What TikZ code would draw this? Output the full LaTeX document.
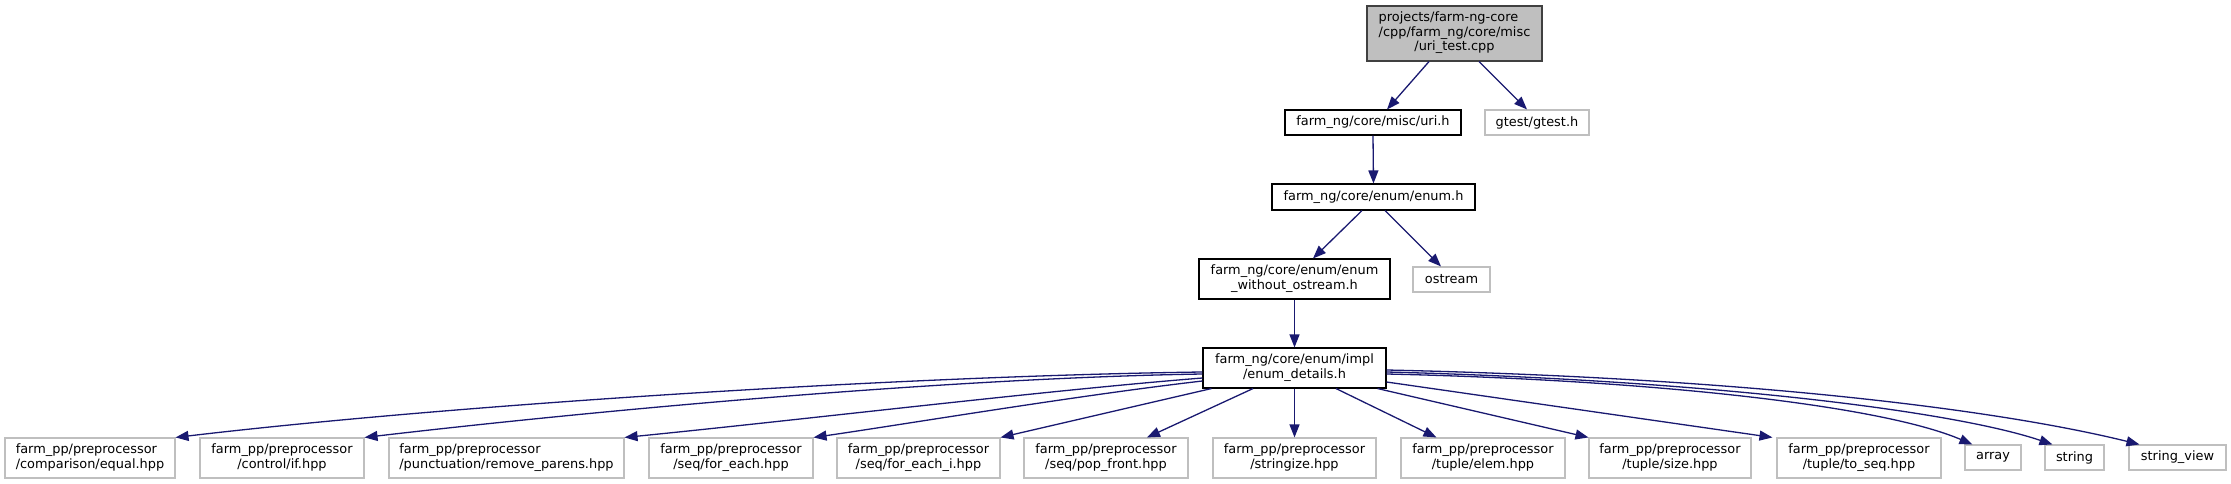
\documentclass[tikz,border=0pt]{standalone}
\usepackage{fontspec}
\setmainfont{DejaVu Sans}
\usetikzlibrary{arrows.meta,calc}
\definecolor{edgeblue}{HTML}{191970}
\definecolor{extgray}{HTML}{BFBFBF}
\definecolor{rootfill}{HTML}{BFBFBF}
\definecolor{rootdraw}{HTML}{404040}
\newcommand{\lbltwo}[2]{\begin{tabular}{@{}l@{}}#1\\\multicolumn{1}{@{}c@{}}{#2}\end{tabular}}
\newcommand{\lblthree}[3]{\begin{tabular}{@{}l@{}}#1\\#2\\\multicolumn{1}{@{}c@{}}{#3}\end{tabular}}
\tikzset{
  box/.style={rectangle, inner sep=0pt, line width=1.1pt, fill=white, anchor=center,
    font=\fontsize{12.9}{14.5}\selectfont},
  intbox/.style={box, draw=black},
  extbox/.style={box, draw=extgray},
  rootbox/.style={box, draw=rootdraw, fill=rootfill},
  edge/.style={draw=edgeblue, line width=1.3pt, -{Triangle[length=13pt,width=10pt]}}
}
\begin{document}
\begin{tikzpicture}[x=1pt,y=-1pt]
\useasboundingbox (0,0) rectangle (2231,484);
% nodes
\node[rootbox, minimum width=175pt, minimum height=55pt] (root) at (1454.5,33.5)
  {\lblthree{projects/farm-ng-core}{/cpp/farm\_ng/core/misc}{/uri\_test.cpp}};
\node[intbox, minimum width=176pt, minimum height=25pt] (uri) at (1373,122.5) {farm\_ng/core/misc/uri.h};
\node[extbox, minimum width=104pt, minimum height=25pt] (gtest) at (1537,122.5) {gtest/gtest.h};
\node[intbox, minimum width=203pt, minimum height=26pt] (enumh) at (1373.5,197) {farm\_ng/core/enum/enum.h};
\node[intbox, minimum width=191pt, minimum height=40pt] (wo) at (1294.5,279)
  {\lbltwo{farm\_ng/core/enum/enum}{\_without\_ostream.h}};
\node[extbox, minimum width=77pt, minimum height=25pt] (os) at (1451.5,279.5) {ostream};
\node[intbox, minimum width=183pt, minimum height=40pt] (ed) at (1294.5,368)
  {\lbltwo{farm\_ng/core/enum/impl}{/enum\_details.h}};
\node[extbox, minimum width=170pt, minimum height=40pt] (eq) at (90,458)
  {\lbltwo{farm\_pp/preprocessor}{/comparison/equal.hpp}};
\node[extbox, minimum width=164pt, minimum height=40pt] (ifh) at (282,458)
  {\lbltwo{farm\_pp/preprocessor}{/control/if.hpp}};
\node[extbox, minimum width=235pt, minimum height=40pt] (rp) at (506.5,458)
  {\lbltwo{farm\_pp/preprocessor}{/punctuation/remove\_parens.hpp}};
\node[extbox, minimum width=164pt, minimum height=40pt] (fe) at (731,458)
  {\lbltwo{farm\_pp/preprocessor}{/seq/for\_each.hpp}};
\node[extbox, minimum width=163pt, minimum height=40pt] (fei) at (918.5,458)
  {\lbltwo{farm\_pp/preprocessor}{/seq/for\_each\_i.hpp}};
\node[extbox, minimum width=164pt, minimum height=40pt] (pf) at (1106,458)
  {\lbltwo{farm\_pp/preprocessor}{/seq/pop\_front.hpp}};
\node[extbox, minimum width=163pt, minimum height=40pt] (st) at (1294.5,458)
  {\lbltwo{farm\_pp/preprocessor}{/stringize.hpp}};
\node[extbox, minimum width=164pt, minimum height=40pt] (el) at (1483,458)
  {\lbltwo{farm\_pp/preprocessor}{/tuple/elem.hpp}};
\node[extbox, minimum width=162pt, minimum height=40pt] (sz) at (1670,458)
  {\lbltwo{farm\_pp/preprocessor}{/tuple/size.hpp}};
\node[extbox, minimum width=164pt, minimum height=40pt] (ts) at (1859,458)
  {\lbltwo{farm\_pp/preprocessor}{/tuple/to\_seq.hpp}};
\node[extbox, minimum width=56pt, minimum height=25pt] (ar) at (1993,457.5) {array};
\node[extbox, minimum width=59pt, minimum height=25pt] (str) at (2074.5,457.5) {string};
\node[extbox, minimum width=97pt, minimum height=25pt] (sv) at (2177.5,457.5) {string\_view};
% edges
\draw[edge] ($(root.south)+(-25.5,0)$) -- ($(uri.north)+(14,0)$);
\draw[edge] ($(root.south)+(24.5,0)$) -- ($(gtest.north)+(-10,0)$);
\draw[edge] (uri.south) -- (enumh.north);
\draw[edge] ($(enumh.south)+(-11.5,0)$) -- ($(wo.north)+(18.5,0)$);
\draw[edge] ($(enumh.south)+(11.5,0)$) -- ($(os.north)+(-10.5,0)$);
\draw[edge] (wo.south) -- (ed.north);
\draw[edge] ($(ed.west)+(0,4)$) .. controls (900,376) and (450,405) .. (eq.north east);
\draw[edge] ($(ed.west)+(0,6)$) .. controls (950,378) and (600,410) .. (ifh.north east);
\draw[edge] ($(ed.west)+(0,10)$) .. controls (1050,390) and (800,420) .. (rp.north east);
\draw[edge] ($(ed.west)+(0,13)$) .. controls (1080,395) and (900,425) .. (fe.north east);
\draw[edge] ($(ed.south west)+(9,0)$) -- (fei.north east);
\draw[edge] ($(ed.south)+(-41.5,0)$) -- ($(pf.north)+(41,0)$);
\draw[edge] (ed.south) -- (st.north);
\draw[edge] ($(ed.south)+(41.5,0)$) -- ($(el.north west)+(36,0)$);
\draw[edge] ($(ed.south east)+(-9,0)$) -- (sz.north west);
\draw[edge] ($(ed.east)+(0,14)$) -- ($(ts.north west)+(-4,0)$);
\draw[edge] ($(ed.east)+(0,6)$) .. controls (1650,380) and (1880,405) .. ($(ar.north west)+(8,0)$);
\draw[edge] ($(ed.east)+(0,4)$) .. controls (1700,380) and (1950,410) .. ($(str.north west)+(8,0)$);
\draw[edge] ($(ed.east)+(0,2)$) .. controls (1750,378) and (2000,410) .. ($(sv.north west)+(11,0)$);
\end{tikzpicture}
\end{document}
